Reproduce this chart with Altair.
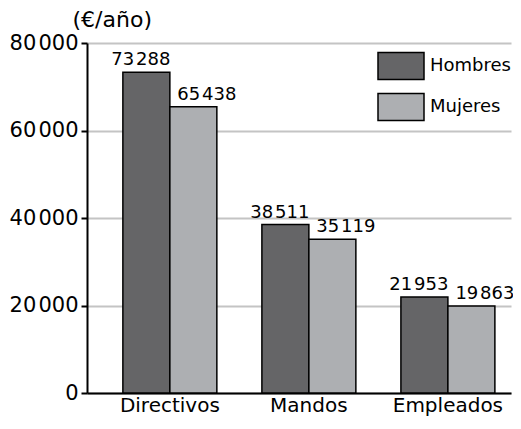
import altair as alt
import pandas as pd

categorias = ["Directivos", "Mandos", "Empleados"]
sexos = ["Hombres", "Mujeres"]
hombres = [73288, 38511, 21953]
mujeres = [65438, 35119, 19863]
y_ticks = [0, 20000, 40000, 60000, 80000]
colores = ["#656567", "#adafb2"]

rows = []
for c, h, m in zip(categorias, hombres, mujeres):
    rows.append({"cat": c, "sexo": "Hombres", "valor": h})
    rows.append({"cat": c, "sexo": "Mujeres", "valor": m})
df = pd.DataFrame(rows)

FONT = "DejaVu Sans"
SEP = "\u200a"

x_enc = alt.X("cat:N", sort=categorias, title=None,
              scale=alt.Scale(paddingInner=0.324, paddingOuter=0.187, align=0.69),
              axis=alt.Axis(labelAngle=0, ticks=False, domainColor="black", domainWidth=2,
                            labelFontSize=20, labelFont=FONT, labelColor="black", labelPadding=2))
xo_enc = alt.XOffset("sexo:N", sort=sexos, scale=alt.Scale(paddingInner=0, paddingOuter=0))
y_enc = alt.Y("valor:Q", scale=alt.Scale(domain=[0, 80000], nice=False),
              axis=alt.Axis(values=y_ticks, title="(€/año)", titleAngle=0, titleAlign="left",
                            titleBaseline="middle", titleX=-15, titleY=-24,
                            titleFont=FONT, titleFontSize=22, titleFontWeight="normal",
                            titleColor="black",
                            labelExpr=f"replace(format(datum.value, ','), ',', '{SEP}')",
                            labelFont=FONT, labelFontSize=21, labelColor="black",
                            domainColor="black", domainWidth=2, tickColor="black",
                            tickWidth=2, tickSize=6, labelPadding=3,
                            grid=True, gridColor="#c4c4c4", gridWidth=2))

bars = alt.Chart(df).mark_bar(stroke="black", strokeWidth=1.5).encode(
    x=x_enc, xOffset=xo_enc, y=y_enc,
    color=alt.Color("sexo:N", sort=sexos,
                    scale=alt.Scale(domain=sexos, range=colores),
                    legend=alt.Legend(title=None, orient="none", legendX=290, legendY=-1,
                                      symbolType="M-1,-0.587H1V0.587H-1Z", symbolSize=2116,
                                      symbolStrokeColor="black", symbolStrokeWidth=1.5,
                                      symbolOpacity=1, labelFont=FONT, labelFontSize=18,
                                      labelColor="black", labelOffset=5, rowPadding=-1,
                                      padding=0)),
)

label_expr = f"replace(format(datum.valor, ','), ',', '{SEP}')"

lab_h = alt.Chart(df).transform_filter(alt.datum.sexo == "Hombres").transform_calculate(
    txt=label_expr).mark_text(align="right", baseline="alphabetic", dx=24, dy=-7,
                             font=FONT, fontSize=18, color="black").encode(
    x=alt.X("cat:N", sort=categorias), xOffset=alt.XOffset("sexo:N", sort=sexos),
    y="valor:Q", text="txt:N")

lab_m = alt.Chart(df).transform_filter(alt.datum.sexo == "Mujeres").transform_calculate(
    txt=label_expr).mark_text(align="left", baseline="alphabetic", dx=-16, dy=-7,
                             font=FONT, fontSize=18, color="black").encode(
    x=alt.X("cat:N", sort=categorias), xOffset=alt.XOffset("sexo:N", sort=sexos),
    y="valor:Q", text="txt:N")

chart = alt.layer(bars, lab_h, lab_m).properties(
    width=424, height=350,
    autosize=alt.AutoSizeParams(type="none"),
    padding={"left": 79, "top": 35, "right": 2, "bottom": 23},
).configure_view(stroke=None).configure_axis(labelFont=FONT)

chart.save("out.html", embed_options={"renderer": "svg", "actions": False})
